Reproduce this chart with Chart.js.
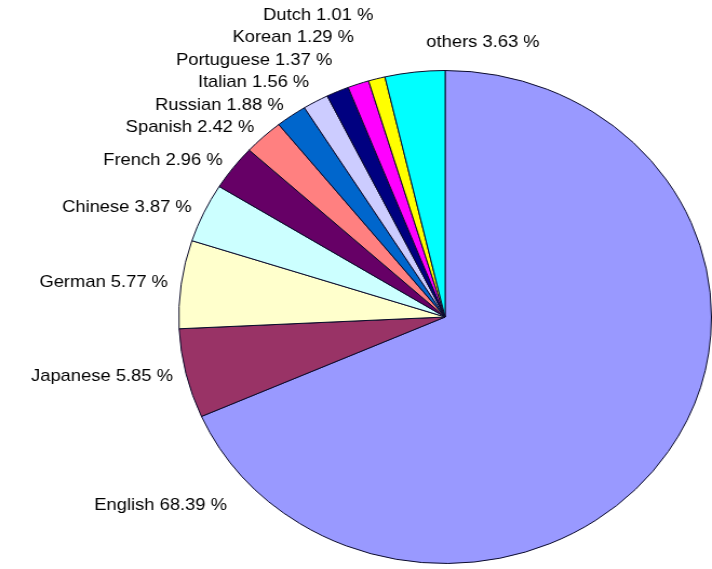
<!DOCTYPE html>
<html>
<head>
<meta charset="utf-8">
<script src="https://cdn.jsdelivr.net/npm/chart.js@4/dist/chart.umd.min.js"></script>
<style>
    html, body { margin: 0; padding: 0; background: #fff; overflow: hidden; }
    /* the original pie is a slightly wide ellipse, so stretch the whole chart sideways */
    .wrap { width: 659px; height: 569px; transform: scaleX(1.0804); transform-origin: 0 0; }
</style>
</head>
<body>
<div class="wrap"><canvas id="pie"></canvas></div>
<script>
const languages = ["English", "Japanese", "German", "Chinese", "French", "Spanish",
    "Russian", "Italian", "Portuguese", "Korean", "Dutch", "others"];
const shares = [68.39, 5.85, 5.77, 3.87, 2.96, 2.42, 1.88, 1.56, 1.37, 1.29, 1.01, 3.63];
const sliceColors = ["#9999ff", "#993366", "#ffffcc", "#ccffff", "#660066", "#ff8080",
    "#0066cc", "#ccccff", "#000080", "#ff00ff", "#ffff00", "#00ffff"];

// labels sit just outside the rim, pushed apart upward when they crowd
const outsideLabels = {
    id: "outsideLabels",
    afterDatasetsDraw(chart) {
        const ctx = chart.ctx;
        const arcs = chart.getDatasetMeta(0).data;
        ctx.save();
        ctx.font = "17px 'Liberation Sans', Arial, sans-serif";
        ctx.fillStyle = "#000";
        ctx.textBaseline = "middle";

        const spots = arcs.map((arc, i) => {
            let ang = (arc.startAngle + arc.endAngle) / 2;
            let r = arc.outerRadius * 1.05;
            if (i === 0) {
                // English label was dragged round to the lower left
                ang = (137 / 180) * Math.PI;
                r = arc.outerRadius * 1.12;
            }
            return {
                x: arc.x + Math.cos(ang) * r,
                y: arc.y + Math.sin(ang) * r,
                text: languages[i] + " " + shares[i].toFixed(2) + " %",
            };
        });

        // small left-side slices: walk from French up to Dutch keeping a gap
        const gap = 22.5;
        for (let i = 5; i <= 10; i++) {
            spots[i].y = Math.min(spots[i].y, spots[i - 1].y - gap);
        }

        spots.forEach((s, i) => {
            if (i === 11) {
                ctx.textAlign = "left";
                ctx.fillText(s.text, s.x + 12, s.y - 18);
            } else {
                ctx.textAlign = "right";
                ctx.fillText(s.text, s.x, s.y);
            }
        });
        ctx.restore();
    },
};

new Chart(document.getElementById("pie"), {
    type: "pie",
    data: {
        labels: languages,
        datasets: [
            {
                data: shares,
                backgroundColor: sliceColors,
                borderColor: "#0a0a2a",
                borderWidth: 1,
            },
        ],
    },
    options: {
        responsive: true,
        maintainAspectRatio: false,
        animation: false,
        events: [],
        layout: { padding: { left: 165, right: 0, top: 70, bottom: 5 } },
        plugins: {
            legend: { display: false },
            tooltip: { enabled: false },
        },
    },
    plugins: [outsideLabels],
});
</script>
</body>
</html>
